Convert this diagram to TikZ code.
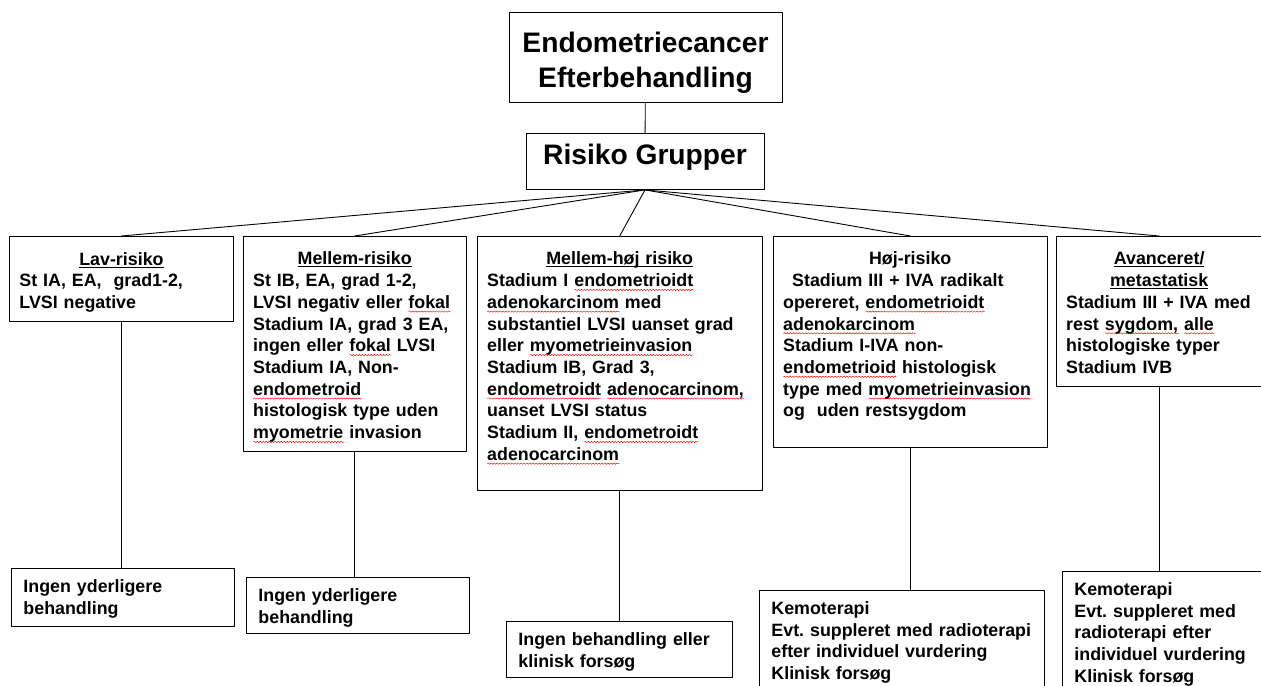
\documentclass[tikz,border=0pt]{standalone}
\usepackage{fontspec}
\setmainfont{Liberation Sans}
\usetikzlibrary{positioning}
\usetikzlibrary{decorations.pathmorphing}
\frenchspacing
\hyphenpenalty=10000
\exhyphenpenalty=10000
\tikzstyle{every node}=[font=\fontsize{17.9pt}{21.8pt}\selectfont\bfseries]
\tikzstyle{every path}=[line width=0.9pt,line cap=round,line join=round]
\tikzstyle{gruppe}=[draw,anchor=north west,align=left,inner xsep=10bp,inner ysep=0pt,text height=28.7bp]
\tikzstyle{forloeb}=[draw,anchor=north west,align=left,inner xsep=12bp,inner ysep=0pt,text height=24bp]
\tikzstyle{titel}=[draw,anchor=north,align=center,inner ysep=0pt,font=\fontsize{28.3pt}{35.2pt}\selectfont\bfseries]
\tikzstyle{boelge}=[red,line width=0.45pt,decorate,decoration={snake,amplitude=0.7pt,segment length=3pt}]
\newcommand{\ovs}[1]{\setbox0\hbox{#1}\rlap{\rule[-2.5bp]{\wd0}{1.1bp}}\box0}
\newcommand{\midt}[1]{\makebox[\linewidth]{#1}}
\newsavebox{\splbox}
\newcommand{\spl}[1]{\leavevmode\sbox{\splbox}{#1}\rlap{\tikz[baseline=0pt]\draw[boelge] (0pt,-3.3pt) -- (\wd\splbox,-3.3pt);}\usebox{\splbox}}

\begin{document}
\begin{tikzpicture}[x=1bp,y=-1bp]
  \useasboundingbox (0,0) rectangle (1261,686);
  % overskrift
  \node[titel,minimum width=273bp,text height=75.2bp,text depth=15bp] (titel) at (645.5,12)
    {Endometriecancer\\Efterbehandling};
  \node[titel,minimum width=238bp,text height=30.6bp,text depth=25.4bp] (risiko) at (645,133)
    {Risiko Grupper};
  % risikogrupper
  \node[gruppe,text width=204bp,text depth=56.3bp] (lav) at (9,236)
    {\midt{\ovs{Lav-risiko}}\\St IA, EA,\ \ grad1-2,\\LVSI negative};
  \node[gruppe,text width=203bp,text depth=186.3bp] (mellem) at (243,236)
    {\midt{\ovs{Mellem-risiko}}\\St IB, EA, grad 1-2,\\LVSI negativ eller \spl{fokal}\\Stadium IA, grad 3 EA,\\
     ingen eller \spl{fokal} LVSI\\Stadium IA, Non-\\\spl{endometroid}\\histologisk type uden\\\spl{myometrie} invasion};
  \node[gruppe,text width=265bp,text depth=225.3bp] (mellemhoej) at (477,236)
    {\midt{\ovs{Mellem-høj risiko}}\\Stadium I \spl{endometrioidt}\\\spl{adenokarcinom} med\\substantiel LVSI uanset grad\\
     eller \spl{myometrieinvasion}\\Stadium IB, Grad 3,\\\spl{endometroidt} \spl{adenocarcinom,}\\uanset LVSI status\\
     Stadium II, \spl{endometroidt}\\\spl{adenocarcinom}};
  \node[gruppe,text width=254bp,text depth=182.3bp] (hoej) at (773,236)
    {\midt{Høj-risiko}\\\hspace*{9bp}Stadium III + IVA radikalt\\opereret, \spl{endometrioidt}\\\spl{adenokarcinom}\\
     Stadium I-IVA non-\\\spl{endometrioid} histologisk\\type med \spl{myometrieinvasion}\\og\ \ uden restsygdom};
  \node[gruppe,text width=186bp,text depth=121.3bp] (avanceret) at (1056,236)
    {\midt{\ovs{Avanceret/}}\\\midt{\ovs{metastatisk}}\\Stadium III + IVA med\\rest \spl{sygdom,} \spl{alle}\\
     histologiske typer\\Stadium IVB};
  % efterbehandling
  \node[forloeb,text width=199bp,text depth=34bp] (ingenlav) at (11,568)
    {Ingen yderligere\\behandling};
  \node[forloeb,text width=199bp,text depth=32bp] (ingenmellem) at (246,577)
    {Ingen yderligere\\behandling};
  \node[forloeb,text width=202bp,text depth=32bp] (ingenmh) at (506,621)
    {Ingen behandling eller\\klinisk forsøg};
  \node[forloeb,text width=261bp,text depth=120bp] (kemohoej) at (759,590)
    {Kemoterapi\\Evt. suppleret med radioterapi\\efter individuel vurdering\\Klinisk forsøg};
  \node[forloeb,text width=186bp,text depth=140bp] (kemoavanceret) at (1062,571)
    {Kemoterapi\\Evt. suppleret med\\radioterapi efter\\individuel vurdering\\Klinisk forsøg};
  % forbindelser
  \draw (titel) -- (risiko);
  \foreach \g in {lav,mellem,mellemhoej,hoej,avanceret}
    \draw (risiko.south) -- (\g.north);
  \foreach \g/\b in {lav/ingenlav,mellem/ingenmellem,mellemhoej/ingenmh,hoej/kemohoej,avanceret/kemoavanceret}
    \draw (\g.south) -- (\g.south |- \b.north);
\end{tikzpicture}
\end{document}
